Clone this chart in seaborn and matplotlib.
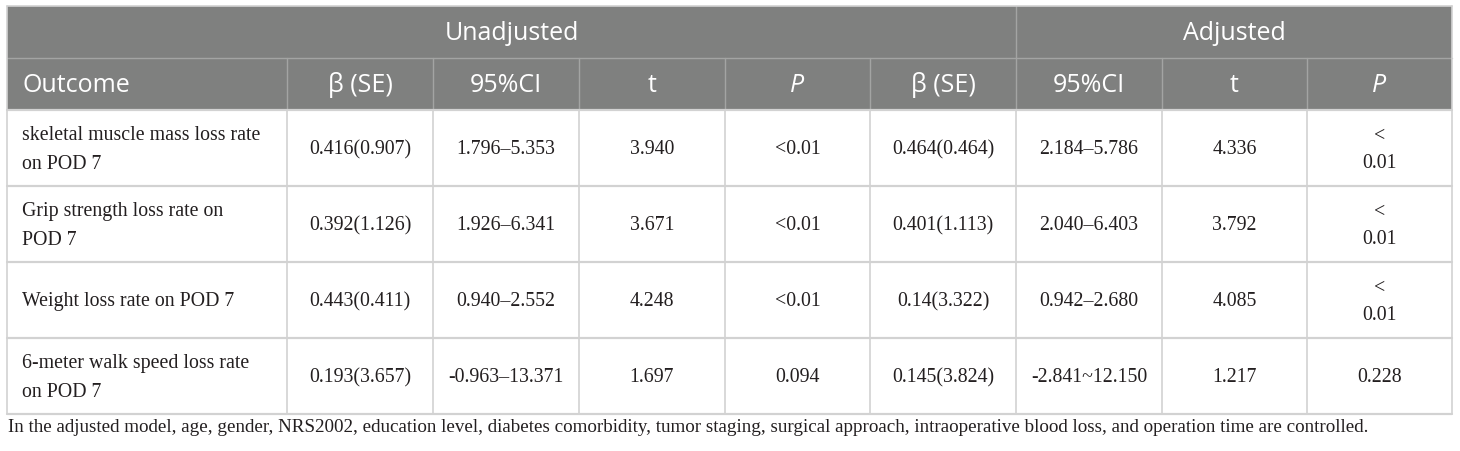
import matplotlib
matplotlib.use("Agg")
import matplotlib.pyplot as plt
from matplotlib.patches import Rectangle
import seaborn as sns

# ---------------- data ----------------
outcomes = [
    "skeletal muscle mass loss rate\non POD 7",
    "Grip strength loss rate on\nPOD 7",
    "Weight loss rate on POD 7",
    "6-meter walk speed loss rate\non POD 7",
]
unadj_beta = ["0.416(0.907)", "0.392(1.126)", "0.443(0.411)", "0.193(3.657)"]
unadj_ci = ["1.796\u20135.353", "1.926\u20136.341", "0.940\u20132.552", "-0.963\u201313.371"]
unadj_t = ["3.940", "3.671", "4.248", "1.697"]
unadj_p = ["<0.01", "<0.01", "<0.01", "0.094"]
adj_beta = ["0.464(0.464)", "0.401(1.113)", "0.14(3.322)", "0.145(3.824)"]
adj_ci = ["2.184\u20135.786", "2.040\u20136.403", "0.942\u20132.680", "-2.841~12.150"]
adj_t = ["4.336", "3.792", "4.085", "1.217"]
adj_p = ["<\n0.01", "<\n0.01", "<\n0.01", "0.228"]

group_labels = ["Unadjusted", "Adjusted"]
col_labels = ["Outcome", "\u03b2 (SE)", "95%CI", "t", "P", "\u03b2 (SE)", "95%CI", "t", "P"]
footnote = ("In the adjusted model, age, gender, NRS2002, education level, diabetes comorbidity, "
            "tumor staging, surgical approach, intraoperative blood loss, and operation time are controlled.")

# ---------------- style ----------------
sns.set_theme(style="white")
W, H = 1460, 452
fig = plt.figure(figsize=(W / 100, H / 100), dpi=100)
ax = fig.add_axes([0, 0, 1, 1])
ax.set_xlim(0, W)
ax.set_ylim(H, 0)
ax.axis("off")

HEAD_BG = "#7f807f"
HEAD_LINE = "#a3a4a3"
GRID = "#d2d2d2"
TXT = "#231f20"
header_font = ["Open Sans", "DejaVu Sans"]
body_font = ["Liberation Serif", "DejaVu Serif"]

xe = [7, 287, 433, 579, 725, 870, 1016, 1162, 1307, 1452]
ye = [7, 59, 111, 187, 263, 339, 415]

# header background
ax.add_patch(Rectangle((xe[0], ye[0]), xe[-1] - xe[0], ye[2] - ye[0],
                       facecolor=HEAD_BG, edgecolor="none", zorder=1))
# header lines
ax.plot([xe[0], xe[-1]], [ye[1], ye[1]], color=HEAD_LINE, lw=1.0, zorder=2)
ax.plot([xe[6], xe[6]], [ye[0], ye[1]], color=HEAD_LINE, lw=1.0, zorder=2)
for x in xe[1:-1]:
    ax.plot([x, x], [ye[1], ye[2]], color=HEAD_LINE, lw=1.0, zorder=2)

# body grid
for y in ye[2:]:
    ax.plot([xe[0], xe[-1]], [y, y], color=GRID, lw=1.6, zorder=2)
for x in xe:
    ax.plot([x, x], [ye[2], ye[-1]], color=GRID, lw=1.2, zorder=2)
# outer border of header
for x in (xe[0], xe[-1]):
    ax.plot([x, x], [ye[0], ye[2]], color=GRID, lw=1.2, zorder=2)
ax.plot([xe[0], xe[-1]], [ye[0], ye[0]], color=GRID, lw=1.2, zorder=2)

# header text
hfs = 18
ax.text((xe[0] + xe[6]) / 2, (ye[0] + ye[1]) / 2, group_labels[0], color="white",
        fontsize=hfs, family=header_font, ha="center", va="center", zorder=3)
ax.text((xe[6] + xe[-1]) / 2, (ye[0] + ye[1]) / 2, group_labels[1], color="white",
        fontsize=hfs, family=header_font, ha="center", va="center", zorder=3)
for i, lab in enumerate(col_labels):
    style = "italic" if lab == "P" else "normal"
    if i == 0:
        ax.text(xe[0] + 15, (ye[1] + ye[2]) / 2, lab, color="white", fontsize=hfs,
                family=header_font, ha="left", va="center", zorder=3)
    else:
        ax.text((xe[i] + xe[i + 1]) / 2, (ye[1] + ye[2]) / 2, lab, color="white",
                fontsize=hfs, family=header_font, style=style,
                ha="center", va="center", zorder=3)

# body text
bfs = 14.3
cols = [unadj_beta, unadj_ci, unadj_t, unadj_p, adj_beta, adj_ci, adj_t, adj_p]
for r in range(len(outcomes)):
    yc = (ye[r + 2] + ye[r + 3]) / 2 + 1
    ax.text(xe[0] + 15, yc, outcomes[r], color=TXT, fontsize=bfs, family=body_font,
            ha="left", va="center", linespacing=1.7, zorder=3)
    for c, vals in enumerate(cols):
        ax.text((xe[c + 1] + xe[c + 2]) / 2, yc, vals[r], color=TXT, fontsize=bfs,
                family=body_font, ha="center", va="center", multialignment="center",
                linespacing=1.6, zorder=3)

# footnote
ax.text(8, 428, footnote, color=TXT, fontsize=13.7, family=body_font,
        ha="left", va="center", zorder=3)

fig.savefig("out.png", dpi=100)
